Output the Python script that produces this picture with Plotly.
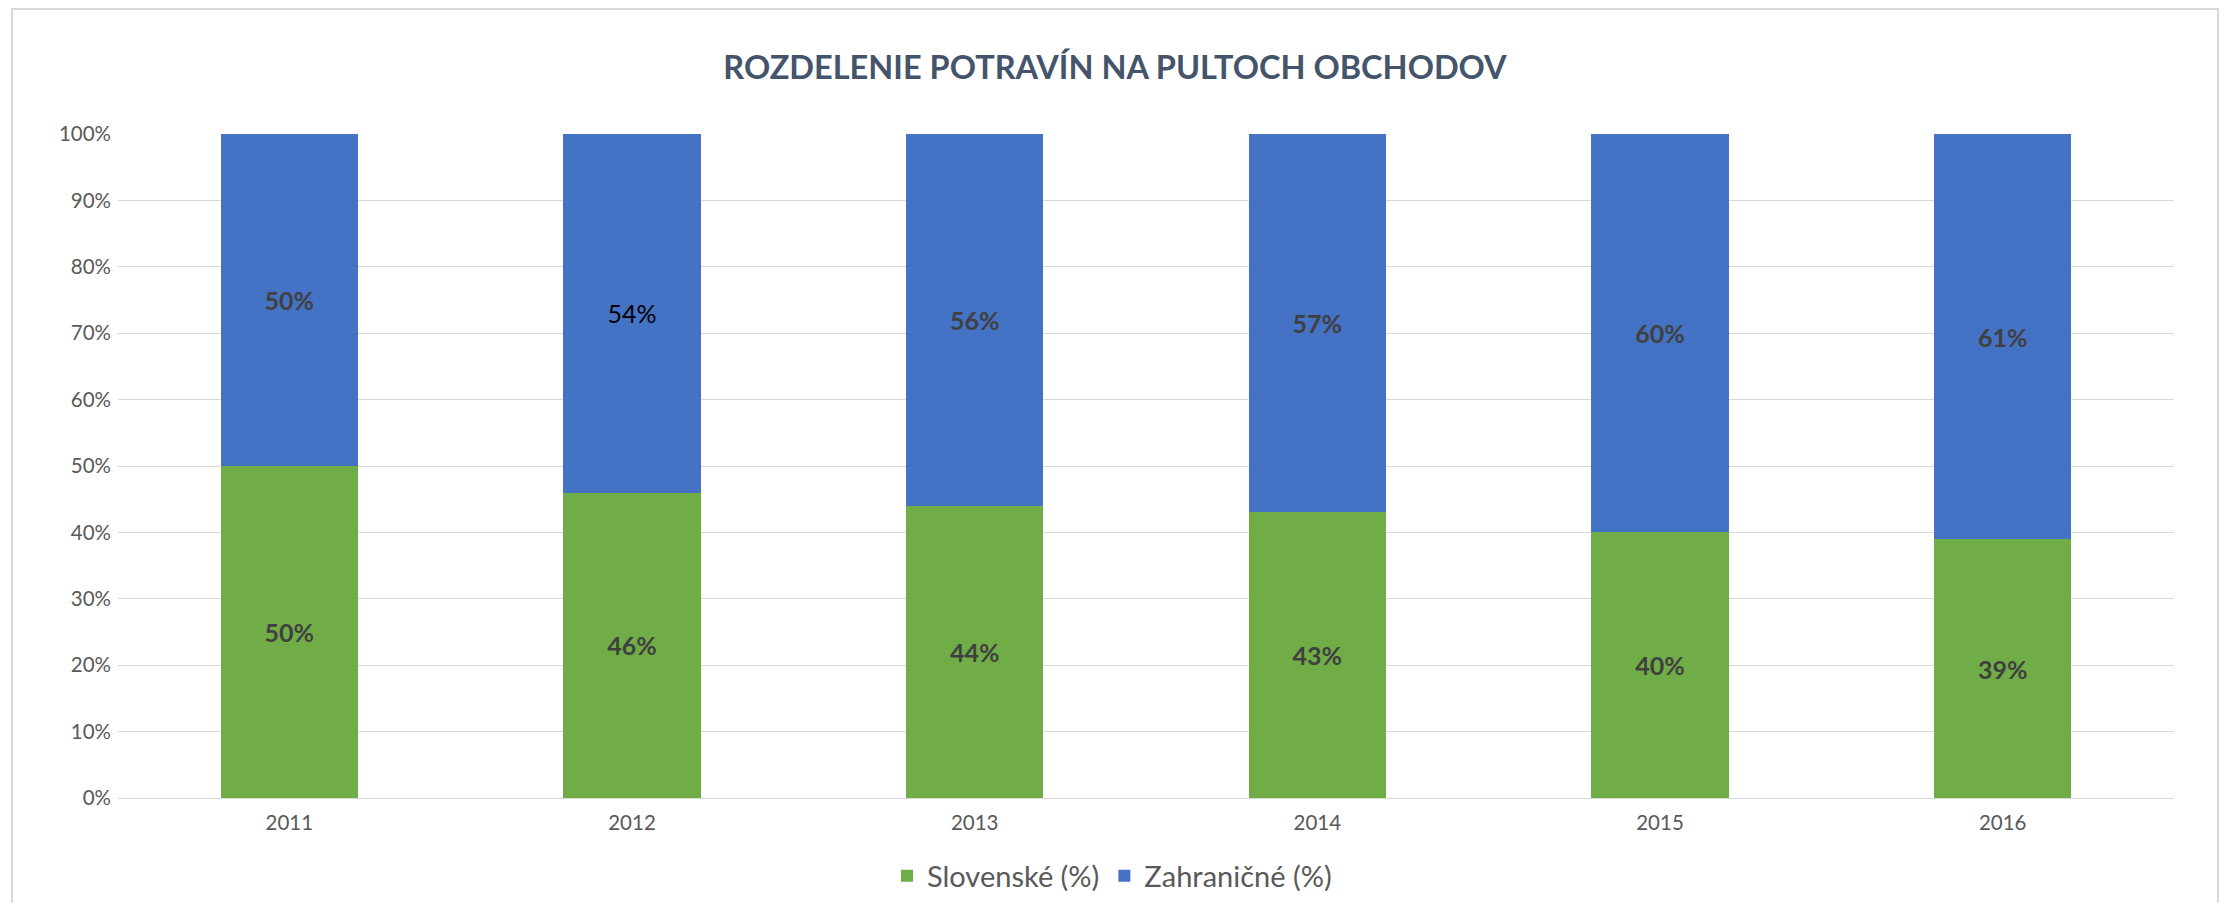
import plotly.graph_objects as go

years = ["2011", "2012", "2013", "2014", "2015", "2016"]
slovenske = [0.50, 0.46, 0.44, 0.43, 0.40, 0.39]
zahranicne = [0.50, 0.54, 0.56, 0.57, 0.60, 0.61]
# label styles (the 2012 foreign label is plain black in the original)
zahr_bold = [True, False, True, True, True, True]
zahr_color = ["#404040", "#000000", "#404040", "#404040", "#404040", "#404040"]

FONT = "Lato, 'Open Sans', sans-serif"

# page body has an 8px margin on every side: keep the figure inside the window
OFF = 8
W, H = 2231 - 2 * OFF, 911 - 2 * OFF
L, T = 118 - OFF, 134 - OFF
PW, PH = 2174 - 118, 798 - 134
R, B = W - L - PW, H - T - PH

def lab(v, bold=True):
    s = f"{round(v*100)}%"
    return f"<b>{s}</b>" if bold else s

fig = go.Figure()
fig.add_trace(go.Bar(
    x=years, y=slovenske, name="Slovenské (%)",
    marker=dict(color="#70AD47", line=dict(width=0)),
    text=[lab(v) for v in slovenske], textposition="inside",
    insidetextanchor="middle", textangle=0,
    textfont=dict(family=FONT, size=25, color="#404040"),
    hoverinfo="skip",
))
fig.add_trace(go.Bar(
    x=years, y=zahranicne, name="Zahraničné (%)",
    marker=dict(color="#4472C4", line=dict(width=0)),
    text=[lab(v, b) for v, b in zip(zahranicne, zahr_bold)], textposition="inside",
    insidetextanchor="middle", textangle=0,
    textfont=dict(family=FONT, size=25, color=zahr_color),
    hoverinfo="skip",
))

fig.update_layout(
    width=W, height=H,
    barmode="stack", bargap=0.6,
    paper_bgcolor="white", plot_bgcolor="white",
    margin=dict(l=L, r=R, t=T, b=B, autoexpand=False),
    font=dict(family=FONT, color="#595959", size=20),
    title=dict(text="<b>ROZDELENIE POTRAVÍN NA PULTOCH OBCHODOV</b>",
               x=(1115 - OFF) / W, xanchor="center", xref="container",
               y=1 - (68 - OFF) / H, yanchor="middle",
               font=dict(family=FONT, size=32.5, color="#44546A")),
    legend=dict(orientation="h", x=(1112 - 118) / PW, xanchor="center",
                y=(798 - 876) / PH, yanchor="middle",
                traceorder="normal", font=dict(family=FONT, size=29, color="#595959"),
                itemsizing="constant", itemwidth=30),
    shapes=[dict(type="rect", xref="paper", yref="paper",
                 x0=(12 - 118) / PW, x1=(2218 - 118) / PW,
                 y0=-0.5, y1=(798 - 9) / PH,
                 line=dict(color="#D9D9D9", width=2), fillcolor="rgba(0,0,0,0)",
                 layer="below")],
)
fig.update_yaxes(range=[0, 1], dtick=0.1, tickformat=".0%", showgrid=True,
                 gridcolor="#D9D9D9", gridwidth=1.3, zeroline=False,
                 showline=False, ticks="", ticklabelstandoff=6,
                 tickfont=dict(family=FONT, size=20.5, color="#595959"), fixedrange=True)
fig.update_xaxes(showgrid=False, showline=True, linecolor="#D9D9D9", linewidth=1.3,
                 ticks="", ticklabelstandoff=6,
                 tickfont=dict(family=FONT, size=20.5, color="#595959"), fixedrange=True)

fig.write_html("out.html", config={"displayModeBar": False})
